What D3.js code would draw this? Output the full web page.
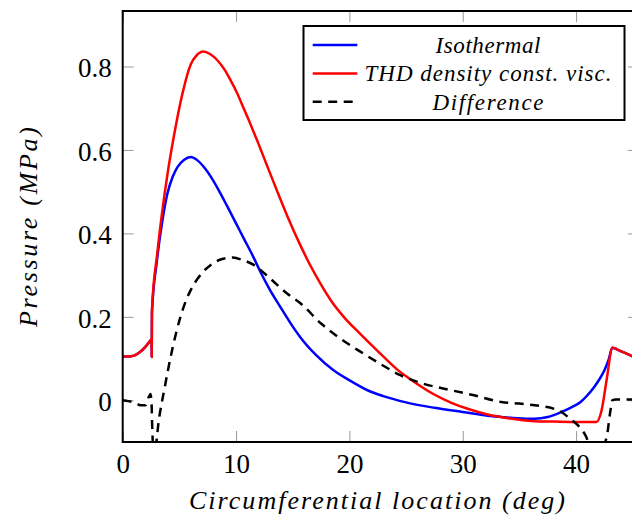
<!DOCTYPE html>
<html>
<head>
<meta charset="utf-8">
<script src="https://cdn.jsdelivr.net/npm/d3@7/dist/d3.min.js"></script>
<style>
  html, body { margin: 0; padding: 0; background: #fff; }
  svg { display: block; }
</style>
</head>
<body>
<svg id="chart" width="632" height="524"></svg>
<script>
// Circumferential pressure profiles (MPa) against location (deg)
const isoX = [0, 0.5, 1.0, 1.5, 2.0, 2.3, 2.55, 2.56, 2.58, 3.0, 3.5, 3.94, 4.4, 4.83, 5.4, 6.0, 6.6, 7.2, 7.77, 8.5, 9.24, 10.0, 10.7, 11.5, 12.2, 13.0, 13.9, 14.8, 15.7, 17.0, 18.6, 20.0, 21.6, 23.0, 25.0, 27.5, 30.0, 32.2, 33.4, 35.5, 36.3, 37.5, 38.7, 39.5, 40.4, 41.0, 41.6, 42.0, 42.5, 42.9, 43.2, 43.6, 44.1, 44.6, 45.0, 45.6];
const isoY = [0.105, 0.105, 0.107, 0.115, 0.128, 0.138, 0.145, 0.104, 0.21, 0.33, 0.43, 0.495, 0.535, 0.559, 0.576, 0.583, 0.575, 0.558, 0.536, 0.502, 0.464, 0.424, 0.387, 0.345, 0.305, 0.264, 0.224, 0.185, 0.150, 0.11, 0.072, 0.048, 0.024, 0.01, -0.005, -0.018, -0.028, -0.037, -0.04, -0.044, -0.044, -0.04, -0.028, -0.018, -0.004, 0.012, 0.032, 0.048, 0.072, 0.1, 0.126, 0.122, 0.116, 0.11, 0.105, 0.1];

const thdX = [0, 0.5, 1.0, 1.5, 2.0, 2.3, 2.55, 2.56, 2.58, 3.05, 3.5, 3.94, 4.53, 5.27, 6.0, 6.5, 7.1, 7.7, 8.35, 9.0, 9.5, 10.1, 10.7, 11.3, 11.9, 12.8, 13.6, 14.5, 15.7, 16.5, 17.5, 18.4, 19.5, 21.0, 22.5, 24.2, 25.5, 27.4, 29.0, 30.5, 32.2, 34.0, 36.3, 38.0, 40.0, 41.8, 42.25, 42.7, 43.2, 43.6, 44.1, 44.6, 45.0, 45.6];
const thdY = [0.105, 0.105, 0.107, 0.115, 0.128, 0.138, 0.146, 0.104, 0.216, 0.352, 0.455, 0.54, 0.635, 0.735, 0.805, 0.826, 0.836, 0.83, 0.815, 0.792, 0.768, 0.736, 0.698, 0.66, 0.62, 0.558, 0.503, 0.443, 0.37, 0.326, 0.277, 0.238, 0.2, 0.158, 0.118, 0.074, 0.048, 0.015, -0.006, -0.021, -0.034, -0.043, -0.05, -0.051, -0.052, -0.052, -0.024, 0.05, 0.126, 0.122, 0.116, 0.11, 0.105, 0.1];

const diffX = [0, 0.5, 1.0, 1.6, 2.0, 2.3, 2.45, 2.55, 2.6, 2.7, 2.85, 3.2, 3.7, 4.2, 4.7, 5.1, 5.6, 6.0, 7.0, 7.8, 8.7, 9.7, 10.6, 11.6, 13.0, 14.5, 15.7, 17.5, 19.2, 21.0, 22.8, 24.5, 26.5, 29.0, 31.0, 33.4, 35.0, 36.9, 38.0, 38.7, 39.5, 40.4, 40.9, 41.3, 42.2, 42.7, 43.0, 43.2, 43.5, 44.0, 45.6];
const diffY = [0.0, -0.002, -0.005, -0.012, -0.012, 0.008, 0.015, -0.01, -0.06, -0.115, -0.115, -0.045, 0.03, 0.1, 0.16, 0.2, 0.24, 0.264, 0.305, 0.325, 0.338, 0.342, 0.336, 0.324, 0.292, 0.256, 0.232, 0.184, 0.148, 0.116, 0.086, 0.06, 0.04, 0.024, 0.012, -0.004, -0.008, -0.014, -0.02, -0.028, -0.045, -0.067, -0.088, -0.115, -0.115, -0.088, -0.03, 0.0, 0.002, 0.002, 0.002];

const seriesNames = ["Isothermal", "THD density const. visc.", "Difference"];
const seriesColors = ["#0000ff", "#ff0000", "#000000"];
const seriesDash = [null, null, "9,6.5"];

const xTicks = [0, 10, 20, 30, 40];
const yTicks = [0, 0.2, 0.4, 0.6, 0.8];

const serif = "'Liberation Serif', 'Times New Roman', serif";
const svg = d3.select("#chart");
const plotLeft = 122.7, plotRight = 639, plotTop = 11, plotBottom = 442;

const x = d3.scaleLinear().domain([0, 45.55]).range([plotLeft, plotRight]);
const y = d3.scaleLinear().domain([-0.1, 0.933]).range([plotBottom, plotTop]);

svg.append("defs").append("clipPath").attr("id", "plotClip")
  .append("rect").attr("x", plotLeft).attr("y", plotTop)
  .attr("width", plotRight - plotLeft).attr("height", plotBottom - plotTop);

const tickLen = 11;
const tickColor = "#9a9a9a";

// Bottom axis: inward ticks and labels
const xAxis = svg.append("g").attr("transform", `translate(0,${plotBottom})`)
  .call(d3.axisBottom(x).tickValues(xTicks).tickSizeInner(-tickLen).tickSizeOuter(0).tickPadding(12).tickFormat(d3.format("d")));
// Top axis: mirrored ticks only
const xAxisTop = svg.append("g").attr("transform", `translate(0,${plotTop})`)
  .call(d3.axisTop(x).tickValues(xTicks).tickSizeInner(-tickLen).tickSizeOuter(0).tickFormat(""));
// Left axis
const yAxis = svg.append("g").attr("transform", `translate(${plotLeft},0)`)
  .call(d3.axisLeft(y).tickValues(yTicks).tickSizeInner(-tickLen).tickSizeOuter(0).tickPadding(11)
    .tickFormat(d => d === 0 ? "0" : d3.format(".1f")(d)));
// Right axis: mirrored ticks only
const yAxisRight = svg.append("g").attr("transform", `translate(${plotRight},0)`)
  .call(d3.axisRight(y).tickValues(yTicks).tickSizeInner(-tickLen).tickSizeOuter(0).tickFormat(""));

[xAxis, xAxisTop, yAxis, yAxisRight].forEach(g => {
  g.select(".domain").remove();
  g.selectAll(".tick line").attr("stroke", tickColor).attr("stroke-width", 1);
  g.selectAll(".tick text")
    .style("font-family", serif).style("font-size", "27px").attr("fill", "#000");
});
xAxis.selectAll(".tick text").attr("dy", "0.71em");
yAxis.selectAll(".tick text").attr("dy", "0.38em");

// Curves
const xs = [isoX, thdX, diffX];
const ys = [isoY, thdY, diffY];
const line = d3.line().x(d => x(d[0])).y(d => y(d[1])).curve(d3.curveMonotoneX);
const plot = svg.append("g").attr("clip-path", "url(#plotClip)");
seriesNames.forEach((name, i) => {
  const pts = xs[i].map((v, j) => [v, ys[i][j]]);
  plot.append("path")
    .datum(pts)
    .attr("fill", "none")
    .attr("stroke", seriesColors[i])
    .attr("stroke-width", 2.5)
    .attr("stroke-linejoin", "round")
    .attr("stroke-dasharray", seriesDash[i])
    .attr("d", line);
});

// Frame
svg.append("rect").attr("x", plotLeft).attr("y", plotTop)
  .attr("width", plotRight - plotLeft).attr("height", plotBottom - plotTop)
  .attr("fill", "none").attr("stroke", "#000").attr("stroke-width", 2);

// Axis titles
svg.append("text")
  .attr("x", 377).attr("y", 509)
  .attr("text-anchor", "middle")
  .style("font-family", serif).style("font-size", "26px").style("font-style", "italic")
  .attr("textLength", 376).attr("lengthAdjust", "spacing")
  .text("Circumferential location (deg)");

svg.append("text")
  .attr("transform", "translate(37,227) rotate(-90)")
  .attr("text-anchor", "middle")
  .style("font-family", serif).style("font-size", "26px").style("font-style", "italic")
  .attr("textLength", 200).attr("lengthAdjust", "spacing")
  .text("Pressure (MPa)");

// Legend
const legend = svg.append("g");
legend.append("rect").attr("x", 303.5).attr("y", 26).attr("width", 321).attr("height", 94)
  .attr("fill", "#fff").attr("stroke", "#000").attr("stroke-width", 2);
const legendWidths = [105, 247, 111];
seriesNames.forEach((name, i) => {
  const ly = 45 + i * 28.4;
  legend.append("line").attr("x1", 312.7).attr("x2", 357.3).attr("y1", ly).attr("y2", ly)
    .attr("stroke", seriesColors[i]).attr("stroke-width", 2.5)
    .attr("stroke-dasharray", seriesDash[i]);
  legend.append("text").attr("x", 488).attr("y", ly + 8)
    .attr("text-anchor", "middle")
    .style("font-family", serif).style("font-size", "23px").style("font-style", "italic")
    .attr("textLength", legendWidths[i]).attr("lengthAdjust", "spacing")
    .text(name);
});
</script>
</body>
</html>
